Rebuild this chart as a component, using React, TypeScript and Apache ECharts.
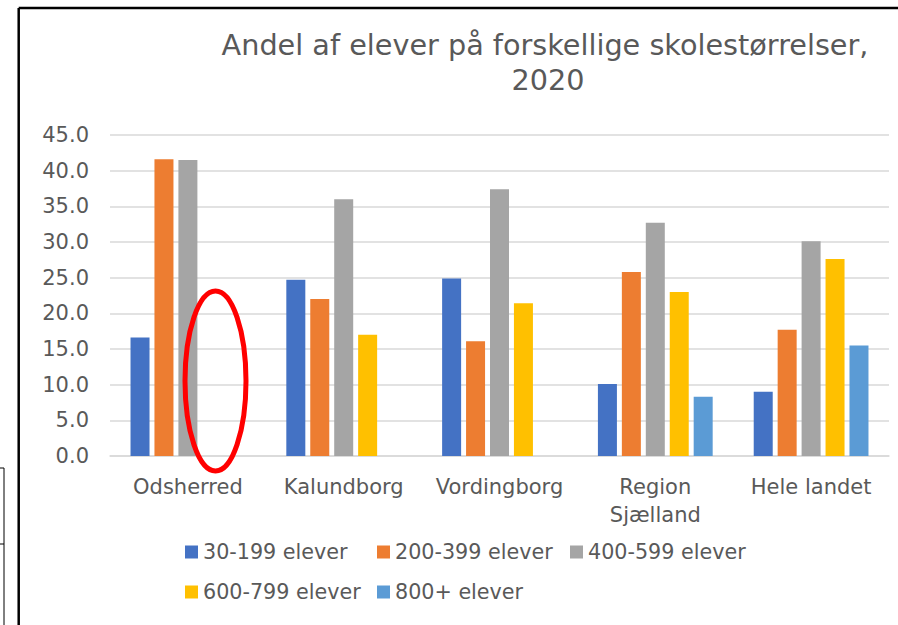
import React, { useEffect, useRef } from "react";
import * as echarts from "echarts";

const categories = ["Odsherred", "Kalundborg", "Vordingborg", "Region Sjælland", "Hele landet"];
const seriesNames = ["30-199 elever", "200-399 elever", "400-599 elever", "600-799 elever", "800+ elever"];
const s30to199 = [16.6, 24.7, 24.9, 10.1, 9.0];
const s200to399 = [41.6, 22.0, 16.1, 25.8, 17.7];
const s400to599 = [41.5, 36.0, 37.4, 32.7, 30.1];
const s600to799 = [null, 17.0, 21.4, 23.0, 27.6];
const s800plus = [null, null, null, 8.3, 15.5];
const yTicks = { min: 0, max: 45, interval: 5 };
const colors = ["#4472C4", "#ED7D31", "#A5A5A5", "#FFC000", "#5B9BD5"];

const FONT = "'DejaVu Sans', sans-serif";
const TXT = "#595959";

export default function App() {
  const ref = useRef<HTMLDivElement>(null);
  useEffect(() => {
    if (!ref.current) return;
    const chart = echarts.init(ref.current, undefined, { renderer: "svg" });
    const values = [s30to199, s200to399, s400to599, s600to799, s800plus];
    const legendPos = [
      { left: 185, top: 540 },
      { left: 377, top: 540 },
      { left: 570, top: 540 },
      { left: 185, top: 580 },
      { left: 377, top: 580 },
    ];
    chart.setOption({
      animation: false,
      backgroundColor: "#ffffff",
      textStyle: { fontFamily: FONT },
      title: [
        {
          text: "Andel af elever på forskellige skolestørrelser,",
          left: 545,
          top: 30,
          textAlign: "center",
          padding: 0,
          textStyle: { fontFamily: FONT, fontSize: 28.7, fontWeight: "normal", color: TXT },
        },
        {
          text: "2020",
          left: 548,
          top: 65,
          textAlign: "center",
          padding: 0,
          textStyle: { fontFamily: FONT, fontSize: 28.7, fontWeight: "normal", color: TXT },
        },
      ],
      legend: seriesNames.map((n, i) => ({
        data: [n],
        left: legendPos[i].left,
        top: legendPos[i].top,
        padding: 0,
        itemWidth: 13,
        itemHeight: 13,
        icon: "rect",
        textStyle: { fontFamily: FONT, fontSize: 20.7, color: TXT, lineHeight: 24 },
      })),
      grid: { left: 110, right: 9, top: 135, bottom: 169, containLabel: false },
      xAxis: {
        type: "category",
        data: categories,
        axisLine: { lineStyle: { color: "#d9d9d9", width: 1.5 } },
        axisTick: { show: false },
        axisLabel: {
          fontFamily: FONT,
          fontSize: 21,
          color: TXT,
          lineHeight: 28,
          margin: 17,
          interval: 0,
          formatter: (v: string) => (v === "Region Sjælland" ? "Region\nSjælland" : v),
        },
      },
      yAxis: {
        type: "value",
        min: yTicks.min,
        max: yTicks.max,
        interval: yTicks.interval,
        axisLine: { show: false },
        axisTick: { show: false },
        splitLine: { lineStyle: { color: "#d9d9d9", width: 1.5 } },
        axisLabel: {
          fontFamily: FONT,
          fontSize: 21,
          color: TXT,
          margin: 21,
          formatter: (v: number) => v.toFixed(1),
        },
      },
      series: seriesNames.map((n, i) => ({
        name: n,
        type: "bar",
        data: values[i],
        barWidth: 19,
        barGap: "26%",
        itemStyle: { color: colors[i] },
      })),
      graphic: [
        {
          type: "line",
          shape: { x1: 18.7, y1: 8, x2: 898, y2: 8 },
          style: { stroke: "#000000", lineWidth: 2.5 },
        },
        {
          type: "line",
          shape: { x1: 18.7, y1: 8, x2: 18.7, y2: 625 },
          style: { stroke: "#000000", lineWidth: 2.5 },
        },
        {
          type: "line",
          shape: { x1: 4, y1: 468, x2: 4, y2: 625 },
          style: { stroke: "#000000", lineWidth: 1 },
        },
        {
          type: "line",
          shape: { x1: 0, y1: 468, x2: 4, y2: 468 },
          style: { stroke: "#000000", lineWidth: 1 },
        },
        {
          type: "line",
          shape: { x1: 0, y1: 544, x2: 4, y2: 544 },
          style: { stroke: "#000000", lineWidth: 1 },
        },
        {
          type: "ellipse",
          shape: { cx: 215.5, cy: 381, rx: 30.5, ry: 90 },
          style: { fill: "none", stroke: "#FF0000", lineWidth: 5 },
          z: 100,
        },
      ],
    });
    return () => chart.dispose();
  }, []);
  return (
    <div
      ref={ref}
      style={{ position: "fixed", left: 0, top: 0, width: 898, height: 625 }}
    />
  );
}
